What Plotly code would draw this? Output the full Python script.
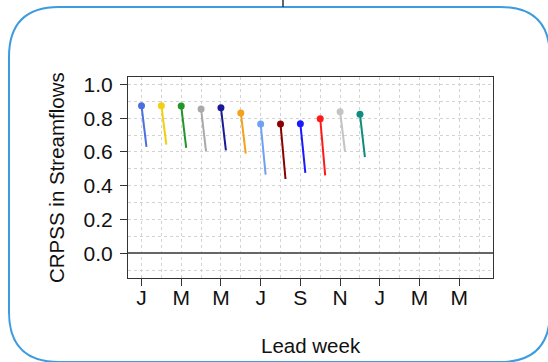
import plotly.graph_objects as go

# ---- data ----
lead_month = [1, 2, 3, 4, 5, 6, 7, 8, 9, 10, 11, 12]
crpss_start = [0.874, 0.874, 0.872, 0.855, 0.862, 0.831, 0.766, 0.766, 0.767, 0.797, 0.838, 0.823]
crpss_end = [0.631, 0.643, 0.624, 0.604, 0.610, 0.590, 0.466, 0.440, 0.476, 0.462, 0.602, 0.570]
series_colors = ["#4a6fe3", "#f2cf10", "#23962a", "#a9a9a9", "#1a1a96", "#f5a11c",
                 "#6fa0f5", "#8b0000", "#1a1aff", "#ff1a1a", "#c4c4c4", "#0f8c80"]
tick_vals = [1, 3, 5, 7, 9, 11, 13, 15, 17]
tick_text = ["J", "M", "M", "J", "S", "N", "J", "M", "M"]
y_ticks = [0.0, 0.2, 0.4, 0.6, 0.8, 1.0]
y_tick_text = ["0.0", "0.2", "0.4", "0.6", "0.8", "1.0"]

END_OFFSET = 0.25

W, H = 548, 362
ML, MR, MT, MB = 128, 55, 77, 84
PW, PH = W - ML - MR, H - MT - MB


def px(x):
    return (x - ML) / PW


def py(y):
    return 1 - (y - MT) / PH


fig = go.Figure()
for m, s, e, c in zip(lead_month, crpss_start, crpss_end, series_colors):
    fig.add_trace(go.Scatter(x=[m, m + END_OFFSET], y=[s, e], mode="lines",
                             line=dict(color=c, width=2), showlegend=False,
                             hoverinfo="skip"))
    fig.add_trace(go.Scatter(x=[m], y=[s], mode="markers",
                             marker=dict(color=c, size=7), showlegend=False))

fam = "Liberation Sans, Arial, sans-serif"
tick_font = dict(family=fam, size=21, color="#111111")
title_font = dict(family=fam, size=20.5, color="#111111")

fig.update_xaxes(range=[0.32, 18.70], tickmode="array", tickvals=tick_vals,
                 ticktext=tick_text, ticks="outside", ticklen=7, tickcolor="#333",
                 showline=True, linecolor="#333", linewidth=1, mirror=True,
                 showgrid=True, gridcolor="#d3d3d3", griddash="dot", gridwidth=1,
                 zeroline=False, tickfont=tick_font, ticklabelstandoff=-6,
                 minor=dict(tickvals=list(range(1, 19)), showgrid=True,
                            gridcolor="#d3d3d3", griddash="dot", ticks=""))
fig.update_yaxes(range=[-0.146, 1.044], tickmode="array", tickvals=y_ticks,
                 ticktext=y_tick_text, ticks="outside", ticklen=7, tickcolor="#333",
                 showline=True, linecolor="#333", linewidth=1, mirror=True,
                 showgrid=True, gridcolor="#d3d3d3", griddash="dot", gridwidth=1,
                 zeroline=True, zerolinecolor="#666", zerolinewidth=1.5,
                 tickfont=tick_font, ticklabelstandoff=3,
                 minor=dict(tickvals=[-0.1, 0.1, 0.3, 0.5, 0.7, 0.9], showgrid=True,
                            gridcolor="#d3d3d3", griddash="dot", ticks=""))

# rounded border
x0, x1, y0, y1, r = 9, 550, 7, 362, 50
path = (f"M {px(x0 + r)},{py(y0)} L {px(x1 - r)},{py(y0)} "
        f"Q {px(x1)},{py(y0)} {px(x1)},{py(y0 + r)} "
        f"L {px(x1)},{py(y1 - r)} Q {px(x1)},{py(y1)} {px(x1 - r)},{py(y1)} "
        f"L {px(x0 + r)},{py(y1)} Q {px(x0)},{py(y1)} {px(x0)},{py(y1 - r)} "
        f"L {px(x0)},{py(y0 + r)} Q {px(x0)},{py(y0)} {px(x0 + r)},{py(y0)} Z")
fig.add_shape(type="path", path=path, xref="paper", yref="paper",
              line=dict(color="#3d9be0", width=2), layer="above")
fig.add_shape(type="line", xref="paper", yref="paper",
              x0=px(283), x1=px(283), y0=py(0), y1=py(7),
              line=dict(color="#333", width=1.5))

fig.add_annotation(text="CRPSS in Streamflows", xref="paper", yref="paper",
                   x=px(56.5), y=py(177.5), textangle=-90, showarrow=False,
                   xanchor="center", yanchor="middle", font=title_font)
fig.add_annotation(text="Lead week", xref="paper", yref="paper",
                   x=px(311), y=py(345), showarrow=False,
                   xanchor="center", yanchor="middle", font=title_font)

fig.update_layout(width=W, height=H, margin=dict(l=ML, r=MR, t=MT, b=MB),
                  paper_bgcolor="white", plot_bgcolor="white")

fig.write_html("out.html", config={"displayModeBar": False},
               post_script="document.body.style.margin='0';"
                           "document.body.style.overflow='hidden';")
